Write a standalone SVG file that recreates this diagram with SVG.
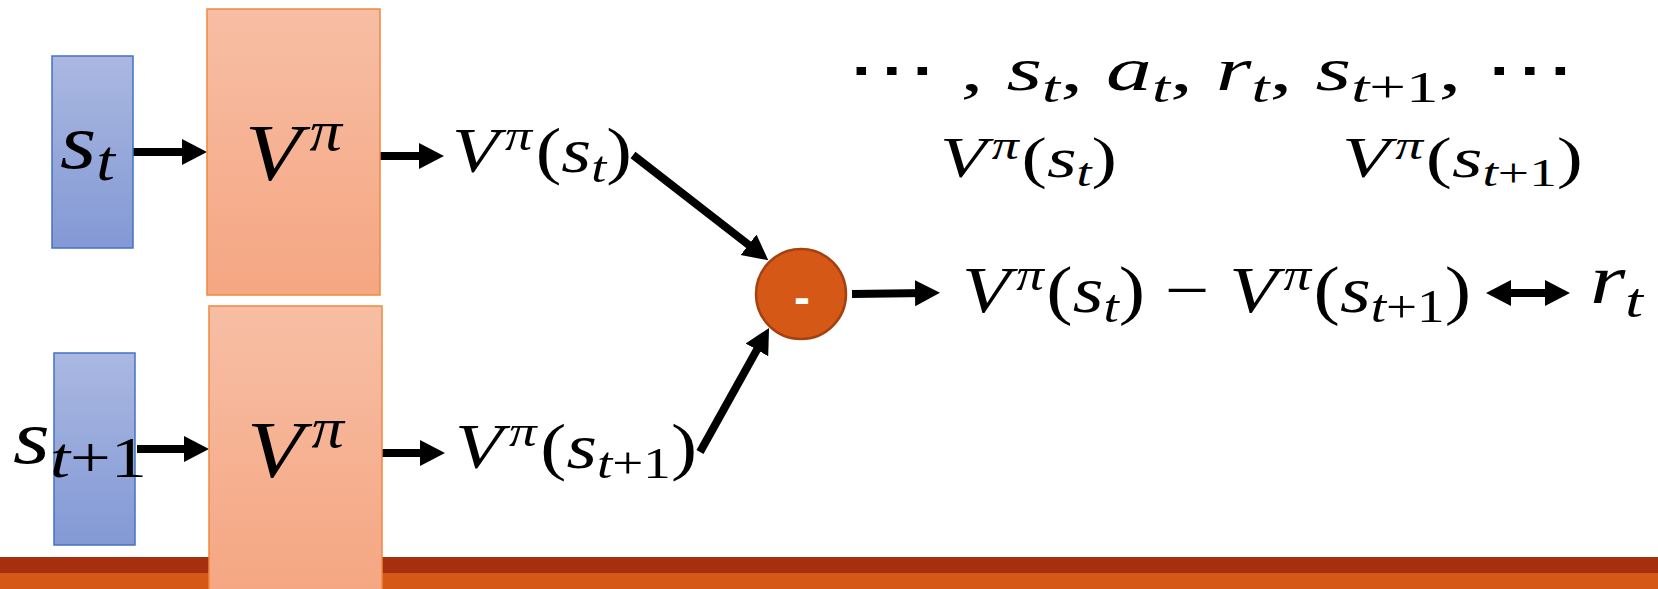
<svg xmlns="http://www.w3.org/2000/svg" width="1658" height="589" viewBox="0 0 1658 589">
<style>
.m{font-family:"Liberation Serif","Times New Roman",serif;fill:#000}
.i{font-style:italic}
.blue{fill:url(#gb);stroke:#4472C4;stroke-width:1.5}
.org{fill:url(#go);stroke:#F0883F;stroke-width:1.5}
.conn{stroke:#000;stroke-width:8;fill:none}
</style>
<defs>
<linearGradient id="gb" x1="0" y1="0" x2="0" y2="1"><stop offset="0" stop-color="#AAB8E1"/><stop offset="1" stop-color="#8399D5"/></linearGradient>
<linearGradient id="go" x1="0" y1="0" x2="0" y2="1"><stop offset="0" stop-color="#F7BEA4"/><stop offset="1" stop-color="#F5A682"/></linearGradient>
<marker id="ah" markerUnits="userSpaceOnUse" markerWidth="28" markerHeight="28" refX="12" refY="13" orient="auto"><path d="M0,0 L25,13 L0,26 z" fill="#000"/></marker>
<marker id="ahs" markerUnits="userSpaceOnUse" markerWidth="28" markerHeight="28" refX="12" refY="13" orient="auto-start-reverse"><path d="M0,0 L25,13 L0,26 z" fill="#000"/></marker>
</defs>
<rect width="1658" height="589" fill="#fff"/>
<g id="footer">
<rect x="0" y="557" width="1658" height="16" fill="#A62F10"/>
<rect x="0" y="573" width="1658" height="16" fill="#D55816"/>
</g>
<g id="connectors">
<line class="conn" x1="133" y1="152" x2="194" y2="152" marker-end="url(#ah)"/>
<line class="conn" x1="380" y1="156" x2="431" y2="156" marker-end="url(#ah)"/>
<line class="conn" x1="137" y1="449" x2="196" y2="449" marker-end="url(#ah)"/>
<line class="conn" x1="382" y1="453" x2="432" y2="453" marker-end="url(#ah)"/>
<line class="conn" x1="633" y1="155" x2="758" y2="252.2" marker-end="url(#ah)"/>
<line class="conn" x1="700" y1="452" x2="762.7" y2="339.4" marker-end="url(#ah)"/>
<line class="conn" x1="852" y1="294" x2="927" y2="293" marker-end="url(#ah)"/>
<line class="conn" x1="1499" y1="293" x2="1557" y2="293" marker-start="url(#ahs)" marker-end="url(#ah)"/>
</g>
<g id="node-st">
<rect class="blue" x="52" y="56" width="81" height="192"/>
<text class="m" x="60" y="168" font-size="78" textLength="55" lengthAdjust="spacingAndGlyphs"><tspan class="i">s</tspan><tspan class="i" font-size="56" dy="12">t</tspan></text>
</g>
<g id="node-v1">
<rect class="org" x="207" y="9" width="173" height="286"/>
<text class="m" x="245" y="180" font-size="80" textLength="97" lengthAdjust="spacingAndGlyphs"><tspan class="i">V</tspan><tspan class="i" font-size="56" dx="7" dy="-30">π</tspan></text>
</g>
<g id="node-st1">
<rect class="blue" x="54" y="353" width="81" height="192"/>
</g>
<g id="node-v2">
<rect class="org" x="209" y="306" width="173" height="290"/>
<text class="m" x="247" y="477" font-size="80" textLength="97" lengthAdjust="spacingAndGlyphs"><tspan class="i">V</tspan><tspan class="i" font-size="56" dx="7" dy="-30">π</tspan></text>
</g>
<g id="node-st1-label">
<text class="m" x="13" y="463" font-size="76" textLength="134" lengthAdjust="spacingAndGlyphs"><tspan class="i">s</tspan><tspan class="i" font-size="58" dy="14">t</tspan><tspan font-size="58">+1</tspan></text>
</g>
<g id="node-out1">
<text class="m" x="452" y="172" font-size="64" textLength="180" lengthAdjust="spacingAndGlyphs"><tspan class="i">V</tspan><tspan class="i" font-size="45" dx="5" dy="-22">π</tspan><tspan dx="3" dy="22">(</tspan><tspan class="i">s</tspan><tspan class="i" font-size="45" dy="10">t</tspan><tspan dy="-10">)</tspan></text>
</g>
<g id="node-out2">
<text class="m" x="455" y="468" font-size="64" textLength="242" lengthAdjust="spacingAndGlyphs"><tspan class="i">V</tspan><tspan class="i" font-size="45" dx="5" dy="-22">π</tspan><tspan dx="3" dy="22">(</tspan><tspan class="i">s</tspan><tspan class="i" font-size="45" dy="10">t</tspan><tspan font-size="45">+1</tspan><tspan dy="-10">)</tspan></text>
</g>
<g id="node-minus">
<circle cx="801" cy="294" r="45" fill="#D55816" stroke="#A3410F" stroke-width="2.5"/>
<text x="802" y="314" font-family="Liberation Sans, Arial, sans-serif" font-weight="bold" font-size="48" fill="#fff" text-anchor="middle">-</text>
</g>
<g id="node-seq">
<text class="m" x="846" y="90" font-size="62" textLength="730" lengthAdjust="spacingAndGlyphs"><tspan font-family="DejaVu Serif, serif">⋯</tspan><tspan> , </tspan><tspan class="i">s</tspan><tspan class="i" font-size="44" dy="12">t</tspan><tspan dy="-12">, </tspan><tspan class="i">a</tspan><tspan class="i" font-size="44" dy="12">t</tspan><tspan dy="-12">, </tspan><tspan class="i">r</tspan><tspan class="i" font-size="44" dy="12">t</tspan><tspan dy="-12">, </tspan><tspan class="i">s</tspan><tspan class="i" font-size="44" dy="12">t</tspan><tspan font-size="44">+1</tspan><tspan dy="-12">, </tspan><tspan font-family="DejaVu Serif, serif">⋯</tspan></text>
</g>
<g id="node-vst">
<text class="m" x="940" y="177" font-size="58" textLength="177" lengthAdjust="spacingAndGlyphs"><tspan class="i">V</tspan><tspan class="i" font-size="41" dx="4" dy="-18">π</tspan><tspan dx="2" dy="18">(</tspan><tspan class="i">s</tspan><tspan class="i" font-size="41" dy="9">t</tspan><tspan dy="-9">)</tspan></text>
</g>
<g id="node-vst1">
<text class="m" x="1342" y="177" font-size="58" textLength="241" lengthAdjust="spacingAndGlyphs"><tspan class="i">V</tspan><tspan class="i" font-size="41" dx="4" dy="-18">π</tspan><tspan dx="2" dy="18">(</tspan><tspan class="i">s</tspan><tspan class="i" font-size="41" dy="9">t</tspan><tspan font-size="41">+1</tspan><tspan dy="-9">)</tspan></text>
</g>
<g id="node-diff">
<text class="m" x="962" y="312" font-size="66" textLength="509" lengthAdjust="spacingAndGlyphs"><tspan class="i">V</tspan><tspan class="i" font-size="46" dx="5" dy="-22">π</tspan><tspan dx="2" dy="22">(</tspan><tspan class="i">s</tspan><tspan class="i" font-size="46" dy="10">t</tspan><tspan dy="-10">) − </tspan><tspan class="i">V</tspan><tspan class="i" font-size="46" dx="5" dy="-22">π</tspan><tspan dx="2" dy="22">(</tspan><tspan class="i">s</tspan><tspan class="i" font-size="46" dy="10">t</tspan><tspan font-size="46">+1</tspan><tspan dy="-10">)</tspan></text>
</g>
<g id="node-rt">
<text class="m" x="1590" y="303" font-size="70" textLength="53" lengthAdjust="spacingAndGlyphs"><tspan class="i">r</tspan><tspan class="i" font-size="49" dy="14">t</tspan></text>
</g>
</svg>
